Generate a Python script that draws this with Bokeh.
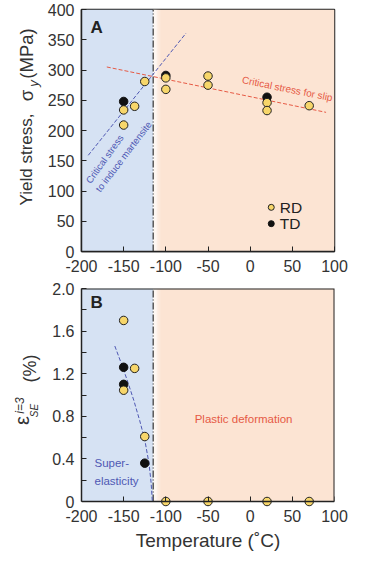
from bokeh.plotting import figure
from bokeh.layouts import column, row
from bokeh.models import Range1d, FixedTicker, LinearAxis
from bokeh.embed import file_html
from bokeh.resources import INLINE
from bokeh.core.properties import value

FONT = "Liberation Sans"

# ---------------- data ----------------
T_MIN, T_MAX = -200, 100
T_TRANS = -115          # boundary superelasticity / plastic deformation

# Panel A : yield stress (MPa)
rd_a_T = [-150, -150, -137, -125, -100, -100, -50, -50, 20, 20, 70]
rd_a_S = [234, 209, 240, 281, 287, 268, 290, 275, 246, 233, 241]
td_a_T = [-150, -100, 20]
td_a_S = [248, 291, 255]

slip_T = [-170, 90]          # critical stress for slip
slip_S = [305, 230]
mart_T = [-192, -76]         # critical stress to induce martensite
mart_S = [159, 361]

# Panel B : superelastic strain (%)
rd_b_T = [-150, -150, -137, -125, -100, -50, 20, 70]
rd_b_V = [1.70, 1.045, 1.25, 0.61, 0, 0, 0, 0]
td_b_T = [-150, -150, -125]
td_b_V = [1.26, 1.10, 0.36]

se_T = [-160.5, -152, -145, -138, -131, -125, -120, -117.5, -116]
se_V = [1.46, 1.28, 1.12, 0.95, 0.76, 0.58, 0.36, 0.18, 0.0]

a_yticks = [0, 50, 100, 150, 200, 250, 300, 350, 400]
b_yticks = [0, 0.4, 0.8, 1.2, 1.6, 2.0]
b_ylabels = ["0", "0.4", "0.8", "1.2", "1.6", "2.0"]
b_yminor = [0.2, 0.6, 1.0, 1.4, 1.8]
xticks = [-200, -150, -100, -50, 0, 50, 100]
xlabels = ["-200", "-150", "-100", "-50", "0", "50", "100"]

# ---------------- styles ----------------
BLUE_BG = "#d6e2f3"
ORANGE_BG = "#fce4d3"
YELLOW = "#f7d66a"
RED = "#e65a45"
BLUE = "#4f58b3"
DARK = "#222222"
TXT = "#333333"
LAB_W = 44
FRAME_L = 79
ROT = 1.5708


def style_axis(ax):
    ax.major_tick_in = 5
    ax.major_tick_out = 0
    ax.minor_tick_in = 5
    ax.minor_tick_out = 0
    ax.axis_line_width = 1.5
    ax.axis_line_color = DARK
    ax.major_tick_line_color = DARK
    ax.minor_tick_line_color = DARK
    ax.major_label_text_font = FONT
    ax.major_label_text_font_size = "16px"
    ax.major_label_text_color = TXT
    ax.major_label_standoff = 8


def backgrounds(p, y0, y1):
    p.quad(left=[T_MIN], right=[T_TRANS], bottom=[y0], top=[y1],
           fill_color=BLUE_BG, line_color=None)
    p.quad(left=[T_TRANS], right=[T_MAX], bottom=[y0], top=[y1],
           fill_color=ORANGE_BG, line_color=None)
    fades = [0.95, 0.8, 0.6, 0.4, 0.2, 0.08]
    for i, a in enumerate(fades):
        p.quad(left=[T_TRANS + i * 1.6], right=[T_TRANS + (i + 1) * 1.6],
               bottom=[y0], top=[y1], fill_color="white", fill_alpha=a,
               line_color=None)
    p.line([T_TRANS, T_TRANS], [y0, y1], line_color=TXT,
           line_width=1.2, line_dash="7 2 1 2")


def lab(p, x, y, text, size, color=DARK, angle=0.0, align="left",
        baseline="middle", style="normal"):
    p.text(x=[x], y=[y], text=[text], text_font=value(FONT),
           text_font_size=value(size), text_color=color, angle=angle,
           text_align=align, text_baseline=baseline, text_font_style=style)


# ---------------- panel A ----------------
pa = figure(x_range=Range1d(T_MIN, T_MAX), y_range=Range1d(0, 400),
            frame_width=253, frame_height=242,
            min_border_left=FRAME_L - LAB_W, min_border_right=25,
            min_border_top=9, min_border_bottom=30,
            output_backend="svg", toolbar_location=None)
pa.grid.visible = False
pa.outline_line_color = DARK
pa.outline_line_width = 1.5
style_axis(pa.xaxis[0])
style_axis(pa.yaxis[0])
pa.yaxis.major_label_standoff = 7
pa.xaxis.ticker = FixedTicker(ticks=xticks, minor_ticks=[])
pa.xaxis.major_label_overrides = dict(zip(xticks, xlabels))
pa.yaxis.ticker = FixedTicker(ticks=a_yticks, minor_ticks=[])
backgrounds(pa, 0, 400)
pa.line(slip_T, slip_S, line_color=RED, line_width=1, line_dash="4 2")
pa.line(mart_T, mart_S, line_color=BLUE, line_width=1, line_dash="4 2")
pa.scatter(td_a_T, td_a_S, size=8.5, fill_color="#111111", line_color="#111111")
pa.scatter(rd_a_T, rd_a_S, size=8.5, fill_color=YELLOW, line_color=DARK,
           line_width=1)
# legend
pa.scatter([25], [73], size=6, fill_color=YELLOW, line_color=DARK, line_width=1)
pa.scatter([25], [46], size=6, fill_color="#111111", line_color="#111111")
lab(pa, 35, 73, "RD", "15.5px")
lab(pa, 35, 46, "TD", "15.5px")
lab(pa, -182, 370, "A", "17px", style="bold", align="center")
lab(pa, 44, 269, "Critical stress for slip", "10px", color=RED,
    angle=-0.2, align="center")
lab(pa, -172.7, 153.0, "Critical stress", "9.5px", color=BLUE, angle=0.95,
    align="center")
lab(pa, -150.2, 157.0, "to induce martensite", "9.5px", color=BLUE, angle=0.92,
    align="center")

# ---------------- panel B ----------------
EXT = 6 / 106.5     # thin white strip below zero so markers at 0 stay whole
pb = figure(x_range=Range1d(T_MIN, T_MAX), y_range=Range1d(-EXT, 2.0),
            frame_width=253, frame_height=219,
            min_border_left=FRAME_L - LAB_W, min_border_right=25,
            min_border_top=7, min_border_bottom=30,
            output_backend="svg", toolbar_location=None)
pb.grid.visible = False
pb.outline_line_color = None
style_axis(pb.xaxis[0])
style_axis(pb.yaxis[0])
pb.yaxis.major_label_standoff = 7
xb = pb.xaxis[0]
xb.ticker = FixedTicker(ticks=xticks, minor_ticks=[])
xb.major_label_overrides = dict(zip(xticks, xlabels))
xb.axis_line_color = None
xb.major_tick_line_color = None
xb.major_label_standoff = 2
xb.axis_label = "Temperature (\u02daC)"
xb.axis_label_text_font = FONT
xb.axis_label_text_font_size = "19px"
xb.axis_label_text_font_style = "normal"
xb.axis_label_text_color = TXT
xb.axis_label_standoff = 5
x0 = LinearAxis(fixed_location=0, ticker=FixedTicker(ticks=xticks, minor_ticks=[]),
                major_label_overrides={t: "" for t in xticks})
style_axis(x0)
x0.major_label_standoff = 0
pb.add_layout(x0, "below")

pb.yaxis.bounds = (0, 2.0)
pb.yaxis.ticker = FixedTicker(ticks=b_yticks, minor_ticks=b_yminor)
pb.yaxis.major_label_overrides = dict(zip(b_yticks, b_ylabels))
backgrounds(pb, 0, 2.0)
pb.line([T_MIN, T_MAX, T_MAX], [2.0, 2.0, 0], line_color=DARK, line_width=2)
pb.line(se_T, se_V, line_color=BLUE, line_width=1, line_dash="4 2")
pb.scatter(td_b_T, td_b_V, size=8.5, fill_color="#111111", line_color="#111111")
pb.scatter(rd_b_T, rd_b_V, size=8.5, fill_color=YELLOW, line_color=DARK,
           line_width=1)
lab(pb, -182, 1.87, "B", "17px", style="bold", align="center")
lab(pb, -7.8, 0.77, "Plastic deformation", "11.5px", color=RED, align="center")
lab(pb, -184.6, 0.366, "Super-", "11.5px", color=BLUE)
lab(pb, -184.6, 0.188, "elasticity", "11.5px", color=BLUE)

# ---------------- left strip with the rotated y-axis titles ----------------
H = 550
lf = figure(title=None, frame_width=LAB_W, frame_height=H,
            x_range=Range1d(0, LAB_W), y_range=Range1d(0, H),
            min_border=0, min_border_left=0, min_border_right=0,
            min_border_top=0, min_border_bottom=0,
            x_axis_location=None, y_axis_location=None,
            output_backend="svg", toolbar_location=None)
lf.grid.visible = False
lf.outline_line_color = None


def py(v):          # page pixel row -> strip coordinate
    return H - v


lab(lf, 26, py(159), "Yield stress,", "17px", color=TXT, angle=ROT,
    align="center")
lab(lf, 26, py(95), "\u03c3", "18.5px", color=TXT, angle=ROT, align="center")
lab(lf, 32.5, py(83), "y", "13px", color=TXT, angle=ROT, align="center",
    style="italic")
lab(lf, 26, py(53), "(MPa)", "18.5px", color=TXT, angle=ROT, align="center")

lab(lf, 21, py(420), "\u03b5", "20px", color=TXT, angle=ROT, align="center")
lab(lf, 19.5, py(405), "i=3", "12px", color=TXT, angle=ROT, align="center",
    style="italic")
lab(lf, 34, py(410), "SE", "10px", color=TXT, angle=ROT, align="center",
    style="italic")
lab(lf, 29.5, py(368), "(%)", "18px", color=TXT, angle=ROT, align="center")

layout = row(lf, column(pa, pb, spacing=0), spacing=0)
open("out.html", "w").write(file_html(layout, INLINE))
